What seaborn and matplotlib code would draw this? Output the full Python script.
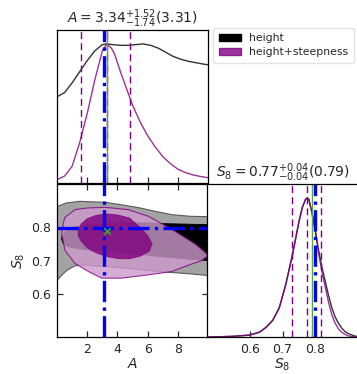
import matplotlib
matplotlib.use("Agg")
import matplotlib.pyplot as plt
from matplotlib.patches import Patch
import pandas as pd
import seaborn as sns

# ---------------- marginal of A (peak normalised to 1) ----------------
a_grid_h = [0.0, 0.5, 1.0, 1.5, 2.0, 2.5, 3.0, 3.3, 3.7, 4.2, 4.7, 5.2,
            5.7, 6.2, 6.7, 7.2, 7.7, 8.2, 8.7, 9.2, 9.7, 10.0]
a_pdf_h = [0.62, 0.65, 0.72, 0.80, 0.88, 0.95, 0.995, 1.0, 0.995, 0.99, 0.99,
           0.995, 1.0, 0.99, 0.97, 0.94, 0.91, 0.89, 0.875, 0.865, 0.855, 0.85]

a_grid_hs = [0.0, 0.5, 1.0, 1.5, 2.0, 2.5, 3.0, 3.3, 3.6, 3.8, 4.2, 4.6, 5.0,
             5.5, 6.0, 6.5, 7.0, 7.5, 8.0, 8.5, 9.0, 9.5, 10.0]
a_pdf_hs = [0.024, 0.05, 0.12, 0.29, 0.50, 0.74, 0.95, 1.0, 0.97, 0.93, 0.80,
            0.68, 0.56, 0.44, 0.34, 0.26, 0.19, 0.14, 0.10, 0.075, 0.058,
            0.047, 0.038]

# ---------------- marginal of S8 (peak normalised to 1) ---------------
s8_grid = [0.47, 0.50, 0.55, 0.60, 0.63, 0.65, 0.67, 0.69, 0.71, 0.73, 0.75,
           0.76, 0.77, 0.775, 0.78, 0.79, 0.80, 0.81, 0.82, 0.83, 0.84, 0.85,
           0.86, 0.87, 0.88, 0.89, 0.90, 0.92, 0.93]
s8_pdf_h = [0.0, 0.001, 0.005, 0.014, 0.035, 0.07, 0.12, 0.21, 0.38, 0.59,
            0.83, 0.93, 0.99, 1.0, 0.99, 0.89, 0.76, 0.62, 0.50, 0.40, 0.30,
            0.21, 0.145, 0.10, 0.065, 0.04, 0.025, 0.007, 0.003]
s8_pdf_hs = [0.0, 0.001, 0.005, 0.014, 0.035, 0.07, 0.12, 0.21, 0.38, 0.59,
             0.83, 0.93, 0.99, 1.0, 0.99, 0.89, 0.76, 0.60, 0.47, 0.36, 0.25,
             0.16, 0.10, 0.06, 0.035, 0.02, 0.008, 0.002, 0.0]

# ---------------- 2D credible regions (A, S8 outlines) ----------------
h95_a = [0.0, 0.6, 1.5, 3.2, 4.5, 5.4, 6.5, 7.6, 8.8, 10.0,
         10.0, 8.8, 7.6, 6.5, 5.0, 3.2, 2.0, 1.6, 1.2, 0.7, 0.35, 0.0]
h95_s8 = [0.862, 0.873, 0.878, 0.875, 0.866, 0.859, 0.848, 0.838, 0.833, 0.832,
          0.655, 0.660, 0.664, 0.668, 0.675, 0.682, 0.686, 0.687, 0.684, 0.672,
          0.658, 0.640]

h68_a = [0.30, 0.35, 0.6, 1.0, 2.0, 3.0, 4.0, 5.0, 6.0, 7.0, 8.0, 9.0, 10.0,
         10.0, 9.0, 8.0, 7.0, 6.0, 5.0, 4.0, 3.0, 2.0, 1.2, 0.7, 0.4]
h68_s8 = [0.765, 0.775, 0.790, 0.800, 0.808, 0.812, 0.814, 0.814, 0.813, 0.811,
          0.810, 0.809, 0.808, 0.700, 0.703, 0.707, 0.711, 0.716, 0.720, 0.724,
          0.728, 0.732, 0.737, 0.742, 0.752]

hs95_a = [0.31, 0.42, 0.53, 1.2, 2.0, 3.2, 4.72, 6.05, 7.6, 9.14, 9.8, 10.0,
          9.58, 8.7, 7.6, 6.05, 4.28, 2.96, 2.08, 1.2, 0.53]
hs95_s8 = [0.779, 0.814, 0.830, 0.853, 0.858, 0.860, 0.853, 0.833, 0.794, 0.750,
           0.725, 0.714, 0.700, 0.686, 0.667, 0.657, 0.647, 0.647, 0.667,
           0.691, 0.730]

hs68_a = [1.4, 1.6, 2.0, 2.6, 3.3, 4.0, 4.8, 5.5, 6.0, 6.3, 6.1, 5.5, 4.8,
          4.0, 3.3, 2.6, 2.0, 1.6, 1.4]
hs68_s8 = [0.790, 0.810, 0.826, 0.836, 0.840, 0.837, 0.828, 0.800, 0.775,
           0.750, 0.728, 0.713, 0.705, 0.706, 0.712, 0.723, 0.738, 0.758, 0.775]

# ---------------- summary values ----------------
a_mean, a_up, a_lo, a_best = 3.34, 1.52, 1.74, 3.31
s8_mean, s8_up, s8_lo, s8_best = 0.774, 0.044, 0.044, 0.79
a_true, s8_true = 3.13, 0.799

series_labels = ["height", "height+steepness"]
line_h = "#333333"
purple = "#800080"
purple_light = "#cc99cc"
alpha_hs = 0.8

a_lim = (0.0, 10.0)
s8_lim = (0.47, 0.93)
a_ticks = [2, 4, 6, 8]
s8_ticks_l = [0.6, 0.7, 0.8]
s8_ticks_b = [0.6, 0.7, 0.8]

sns.set_style("ticks")
plt.rcParams["font.family"] = ["DejaVu Sans"]
plt.rcParams["mathtext.fontset"] = "dejavusans"

fig = plt.figure(figsize=(3.57, 3.74), dpi=100)
ax_a = fig.add_axes([0.1597, 0.5107, 0.423, 0.409])
ax_2d = fig.add_axes([0.1597, 0.0989, 0.423, 0.409])
ax_s8 = fig.add_axes([0.580, 0.0989, 0.423, 0.409])

for ax in (ax_a, ax_2d, ax_s8):
    for sp in ax.spines.values():
        sp.set_color("black")
        sp.set_linewidth(0.9)

# ---------------- top-left: A marginal ----------------
df_a_h = pd.DataFrame({"A": a_grid_h, "p": a_pdf_h})
df_a_hs = pd.DataFrame({"A": a_grid_hs, "p": a_pdf_hs})
sns.lineplot(data=df_a_h, x="A", y="p", ax=ax_a, color=line_h, lw=1.0)
sns.lineplot(data=df_a_hs, x="A", y="p", ax=ax_a, color=purple, alpha=alpha_hs, lw=1.0)
for v in (a_mean - a_lo, a_mean, a_mean + a_up):
    ax_a.axvline(v, color=purple, ls=(0, (5, 3)), lw=1.0)
ax_a.axvline(a_best, color="#55aa33", lw=1.0)
ax_a.axvline(a_true, color="blue", ls="-.", lw=2.4)
ax_a.set_xlim(*a_lim)
ax_a.set_ylim(0, 1.1)
ax_a.set_xticks(a_ticks)
ax_a.set_xticklabels([])
ax_a.set_yticks([])
ax_a.tick_params(axis="x", direction="in", length=4, width=0.9)
ax_a.set_xlabel("")
ax_a.set_ylabel("")
ax_a.set_title(r"$A = %.2f^{+%.2f}_{-%.2f}(%.2f)$" % (a_mean, a_up, a_lo, a_best),
               fontsize=10, pad=5)

# ---------------- bottom-left: 2D regions ----------------
ax_2d.fill(h95_a, h95_s8, facecolor="#a3a3a3", edgecolor="#5a5a5a", lw=0.8)
ax_2d.fill(h68_a, h68_s8, facecolor="black", edgecolor="black", lw=0.6)
ax_2d.fill(hs95_a, hs95_s8, facecolor=purple_light, edgecolor=purple,
           lw=0.8, alpha=alpha_hs)
ax_2d.fill(hs68_a, hs68_s8, facecolor=purple, edgecolor=purple,
           lw=0.6, alpha=alpha_hs)
ax_2d.axvline(a_true, color="blue", ls="-.", lw=2.4)
ax_2d.axhline(s8_true, color="blue", ls="-.", lw=2.4)
sns.scatterplot(x=[a_best], y=[s8_best], ax=ax_2d, marker="x", color="#33aa22",
                s=22, linewidth=1.2, zorder=5)
ax_2d.set_xlim(*a_lim)
ax_2d.set_ylim(*s8_lim)
ax_2d.set_xticks(a_ticks)
ax_2d.set_yticks(s8_ticks_l)
ax_2d.tick_params(direction="in", length=4, width=0.9, top=True, right=True,
                  labelsize=9, pad=4)
ax_2d.set_xlabel(r"$A$", fontsize=10, labelpad=1)
ax_2d.set_ylabel(r"$S_8$", fontsize=10, labelpad=3)

# ---------------- bottom-right: S8 marginal ----------------
df_s8 = pd.DataFrame({"S8": s8_grid, "h": s8_pdf_h, "hs": s8_pdf_hs})
sns.lineplot(data=df_s8, x="S8", y="h", ax=ax_s8, color=line_h, lw=1.0)
sns.lineplot(data=df_s8, x="S8", y="hs", ax=ax_s8, color=purple, alpha=alpha_hs, lw=1.0)
for v in (s8_mean - s8_lo, s8_mean, s8_mean + s8_up):
    ax_s8.axvline(v, color=purple, ls=(0, (5, 3)), lw=1.0)
ax_s8.axvline(s8_best, color="#55aa33", lw=1.0)
ax_s8.axvline(s8_true, color="blue", ls="-.", lw=2.4)
ax_s8.set_xlim(*s8_lim)
ax_s8.set_ylim(0, 1.1)
ax_s8.set_xticks(s8_ticks_b)
ax_s8.set_yticks([])
ax_s8.tick_params(axis="x", direction="in", length=4, width=0.9, labelsize=9, pad=4)
ax_s8.set_xlabel(r"$S_8$", fontsize=10, labelpad=1)
ax_s8.set_ylabel("")
ax_s8.set_title(r"$S_8 = %.2f^{+%.2f}_{-%.2f}(%.2f)$" % (s8_mean, s8_up, s8_lo, s8_best),
                fontsize=10, pad=3)

# ---------------- legend ----------------
handles = [Patch(facecolor="black", edgecolor="black"),
           Patch(facecolor=purple, edgecolor=purple, alpha=alpha_hs)]
fig.legend(handles, series_labels, loc="upper left",
           bbox_to_anchor=(0.598, 0.925), fontsize=7.8, frameon=True,
           fancybox=True, edgecolor="#dddddd", handlelength=2.0,
           handleheight=0.7, borderpad=0.5, labelspacing=0.35,
           handletextpad=0.8, borderaxespad=0.0)

fig.savefig("out.png", dpi=100)
